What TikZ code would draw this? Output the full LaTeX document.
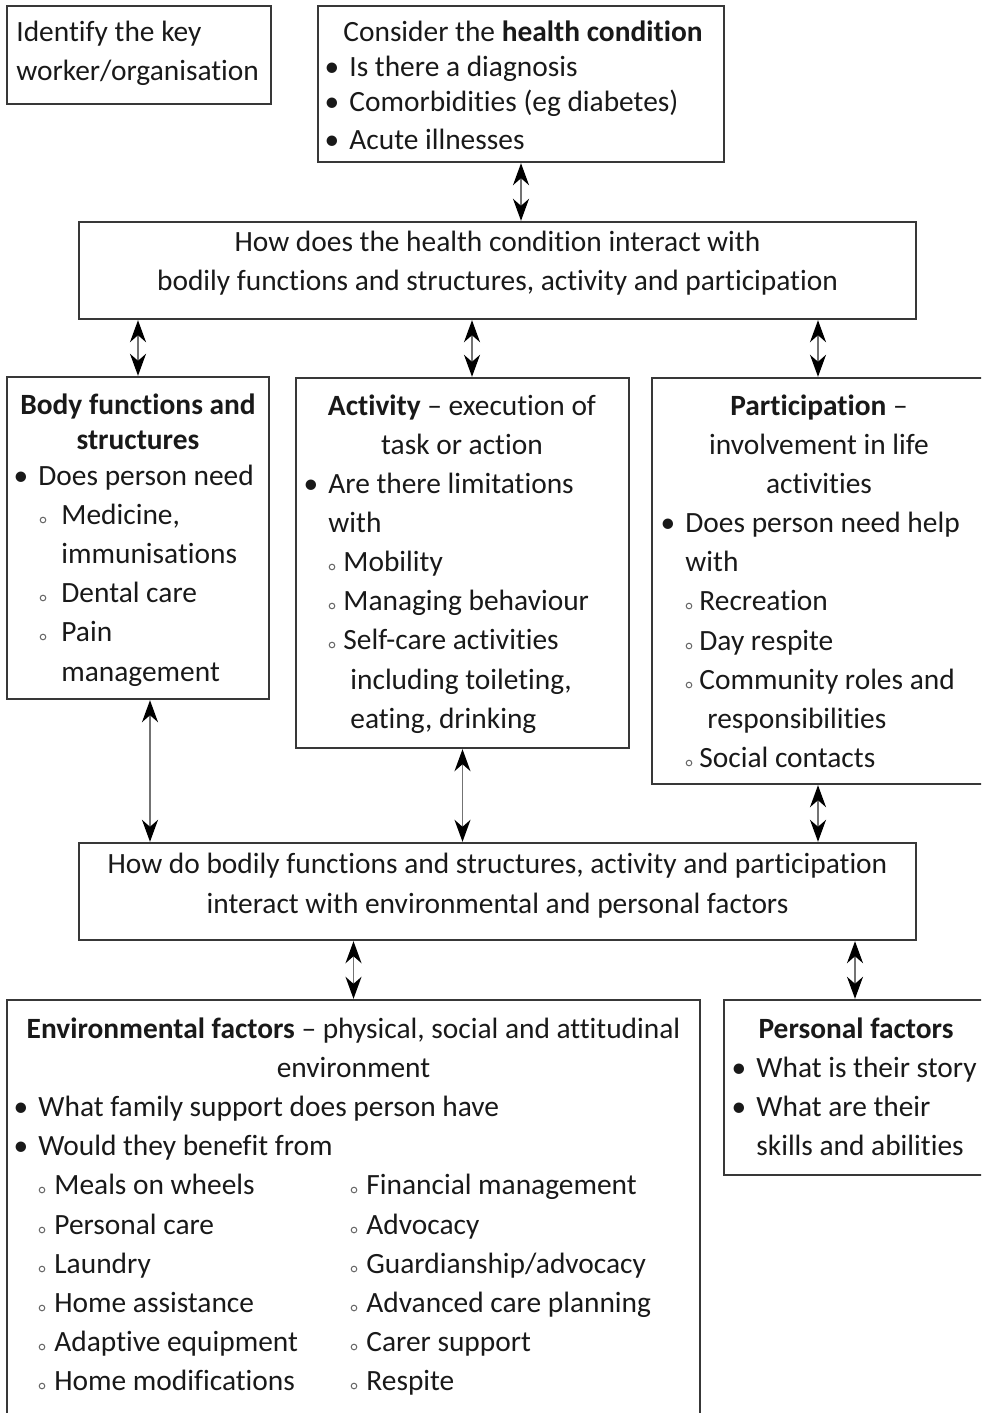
\documentclass[tikz,border=0pt]{standalone}
\usepackage{fontspec}
\setmainfont{Carlito}[Ligatures=NoCommon]
\usetikzlibrary{arrows.meta,fit,calc}
\newcounter{tn}
\colorlet{ink}{black!90}
\colorlet{frame}{black!78}
\tikzset{
  box/.style={draw=frame,line width=1.2pt,inner sep=0pt,rectangle},
  tl/.style={inner sep=0pt,anchor=base west,text=ink,font=\fontsize{14.7}{17}\selectfont},
  tc/.style={tl,anchor=base},
  bul/.style={tl,anchor=base},
  sub/.style={draw=black!60,line width=0.5pt},
  dbl/.style={draw=black!55,line width=0.8pt,{Stealth[length=11pt,width=8pt,inset=3.5pt,black]}-{Stealth[length=11pt,width=8pt,inset=3.5pt,black]}}
}
\newcommand\TL[3]{\stepcounter{tn}\node[tl] (t\arabic{tn}) at (#1,{#2+9}) {#3};}
\newcommand\TC[3]{\stepcounter{tn}\node[tc] (t\arabic{tn}) at (#1,{#2+9}) {#3};}
\newcommand\TB[3]{\stepcounter{tn}\node[bul] (b\arabic{tn}) at ({#1-17},{#2+9}) {•};\TL{#1}{#2}{#3}}
\newcommand\TS[4]{\draw[sub] (#1,{#3+5}) circle[radius=1.4pt];\TL{#2}{#3}{#4}}
\newcommand\BOX[5]{\node[box,fit={(#2,#3) (#4,#5)}] (#1) {};}
\begin{document}
\begin{tikzpicture}[x=0.5pt,y=-0.5pt]
\useasboundingbox (0,0) rectangle (981,1413);
\clip (0,0) rectangle (981,1413);
% boxes
\BOX{key}{7}{6}{271}{104}
\BOX{hc}{318}{6}{724}{162}
\BOX{int1}{79}{222}{916}{319}
\BOX{body}{7}{377}{269}{699}
\BOX{act}{296}{378}{629}{748}
\BOX{part}{652}{378}{984}{784}
\BOX{int2}{79}{843}{916}{940}
\BOX{env}{7}{1000}{700}{1425}
\BOX{pers}{724}{1000}{986}{1175}
% key worker
\TL{16}{33}{Identify the key}
\TL{16}{72}{worker/organisation}
% health condition
\TL{343}{33}{Consider the \textbf{health condition}}
\TB{349}{68}{Is there a diagnosis}
\TB{349}{103}{Comorbidities (eg diabetes)}
\TB{349}{140}{Acute illnesses}
% interaction 1
\TC{497.5}{242}{How does the health condition interact with}
\TC{497.5}{281}{bodily functions and structures, activity and participation}
% body
\TC{138}{405}{\textbf{Body functions and}}
\TC{138}{440}{\textbf{structures}}
\TB{38}{476}{Does person need}
\TS{43}{61}{515}{Medicine,}
\TL{61}{554}{immunisations}
\TS{43}{61}{593}{Dental care}
\TS{43}{61}{632}{Pain}
\TL{61}{672}{management}
% activity
\TC{462}{406}{\textbf{Activity} – execution of}
\TC{462}{445}{task or action}
\TB{328}{484}{Are there limitations}
\TL{328}{523}{with}
\TS{332}{343}{562}{Mobility}
\TS{332}{343}{601}{Managing behaviour}
\TS{332}{343}{640}{Self-care activities}
\TL{350}{680}{including toileting,}
\TL{350}{719}{eating, drinking}
% participation
\TC{819}{406}{\textbf{Participation} –}
\TC{819}{445}{involvement in life}
\TC{819}{484}{activities}
\TB{685}{523}{Does person need help}
\TL{685}{562}{with}
\TS{689}{699}{601}{Recreation}
\TS{689}{699}{641}{Day respite}
\TS{689}{699}{680}{Community roles and}
\TL{707}{719}{responsibilities}
\TS{689}{699}{758}{Social contacts}
% interaction 2
\TC{497.5}{864}{How do bodily functions and structures, activity and participation}
\TC{497.5}{904}{interact with environmental and personal factors}
% environment
\TC{353.5}{1029}{\textbf{Environmental factors} – physical, social and attitudinal}
\TC{353.5}{1068}{environment}
\TB{38}{1107}{What family support does person have}
\TB{38}{1146}{Would they benefit from}
\TS{42}{54}{1185}{Meals on wheels}
\TS{42}{54}{1225}{Personal care}
\TS{42}{54}{1264}{Laundry}
\TS{42}{54}{1303}{Home assistance}
\TS{42}{54}{1342}{Adaptive equipment}
\TS{42}{54}{1381}{Home modifications}
\TS{354}{366}{1185}{Financial management}
\TS{354}{366}{1225}{Advocacy}
\TS{354}{366}{1264}{Guardianship/advocacy}
\TS{354}{366}{1303}{Advanced care planning}
\TS{354}{366}{1342}{Carer support}
\TS{354}{366}{1381}{Respite}
% personal
\TC{856}{1029}{\textbf{Personal factors}}
\TB{756}{1068}{What is their story}
\TB{756}{1107}{What are their}
\TL{756}{1146}{skills and abilities}
% connectors
\draw[dbl] (hc.south) -- (hc.south |- int1.north);
\draw[dbl] (int1.south -| body.north) -- (body.north);
\coordinate (a2) at ($(act.north)+(9.5,0)$);
\draw[dbl] (int1.south -| a2) -- (a2);
\draw[dbl] (int1.south -| part.north) -- (part.north);
\coordinate (a4) at ($(body.south)+(12,0)$);
\draw[dbl] (a4) -- (a4 |- int2.north);
\draw[dbl] (act.south) -- (act.south |- int2.north);
\draw[dbl] (part.south) -- (part.south |- int2.north);
\draw[dbl] (int2.south -| env.north) -- (env.north);
\draw[dbl] (int2.south -| pers.north) -- (pers.north);
\end{tikzpicture}
\end{document}
